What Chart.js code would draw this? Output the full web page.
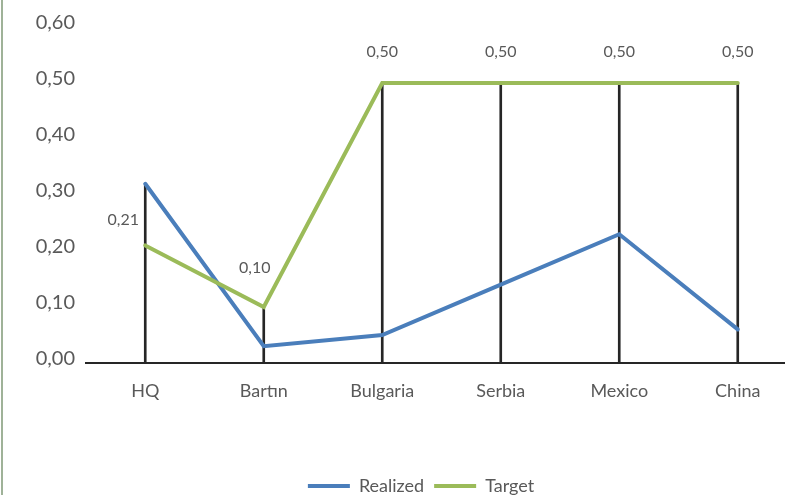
<!DOCTYPE html>
<html>
<head>
<meta charset="utf-8">
<script src="https://cdn.jsdelivr.net/npm/chart.js@4/dist/chart.umd.min.js"></script>
<style>
  html, body { margin: 0; padding: 0; background: #fff; overflow: hidden; }
  #wrap { position: relative; width: 800px; height: 505px; }
  #kenar { position: absolute; left: 1px; top: 0; width: 2px; height: 495px; background: #9fb298; }
</style>
</head>
<body>
<div id="wrap">
  <canvas id="grafik" width="800" height="505"></canvas>
  <div id="kenar"></div>
</div>
<script>
const kategoriler = ['HQ', 'Bartın', 'Bulgaria', 'Serbia', 'Mexico', 'China'];
const gerceklesen = [0.32, 0.03, 0.05, 0.14, 0.23, 0.06];
const hedef = [0.21, 0.10, 0.50, 0.50, 0.50, 0.50];
const yEksenDegerleri = [0, 0.1, 0.2, 0.3, 0.4, 0.5, 0.6];

const yaziRengi = '#595959';
const virgullu = v => Number(v).toFixed(2).replace('.', ',');

// dikey cizgiler: her kategoride iki serinin en yukseginden eksene
const dikeyler = kategoriler.map((_, i) => [0, Math.max(gerceklesen[i], hedef[i])]);

const etiketEklentisi = {
    id: 'hedefEtiketleri',
    afterLayout(chart) {
        // lejant Excel'deki gibi biraz saga kaysin
        chart.legend.left += 45;
    },
    afterDatasetsDraw(chart) {
        const meta = chart.getDatasetMeta(1);
        const ctx = chart.ctx;
        ctx.save();
        ctx.font = '16px Lato';
        ctx.fillStyle = yaziRengi;
        ctx.textAlign = 'center';
        ctx.textBaseline = 'middle';
        meta.data.forEach((nokta, i) => {
            let dx = 0, dy = -31;
            if (i === 0) { dx = -22; dy = -26; }
            if (i === 1) { dx = -9; dy = -39; }
            ctx.fillText(virgullu(hedef[i]), nokta.x + dx, nokta.y + dy);
        });
        ctx.restore();
    }
};

new Chart(document.getElementById('grafik'), {
    data: {
        labels: kategoriler,
        datasets: [
            {
                type: 'line',
                label: 'Realized',
                data: gerceklesen,
                borderColor: '#4a7ebb',
                backgroundColor: '#4a7ebb',
                borderWidth: 4,
                borderCapStyle: 'round',
                pointRadius: 0,
                tension: 0,
                order: 2
            },
            {
                type: 'line',
                label: 'Target',
                data: hedef,
                borderColor: '#9bbb59',
                backgroundColor: '#9bbb59',
                borderWidth: 4,
                borderCapStyle: 'round',
                pointRadius: 0,
                tension: 0,
                order: 1
            },
            {
                type: 'bar',
                label: 'dikey',
                data: dikeyler,
                backgroundColor: '#262626',
                barThickness: 2,
                order: 3
            }
        ]
    },
    options: {
        responsive: false,
        animation: false,
        layout: { padding: { left: 0, right: 3, top: 27, bottom: 0 } },
        plugins: {
            tooltip: { enabled: false },
            legend: {
                position: 'bottom',
                labels: {
                    usePointStyle: true,
                    pointStyle: 'line',
                    pointStyleWidth: 42,
                    color: yaziRengi,
                    font: { family: 'Lato', size: 18 },
                    padding: 10,
                    filter: item => item.text !== 'dikey',
                    sort: (a, b) => a.datasetIndex - b.datasetIndex
                }
            }
        },
        scales: {
            x: {
                grid: { display: false, drawTicks: false },
                border: { display: true, color: '#262626', width: 2 },
                ticks: {
                    color: yaziRengi,
                    font: { family: 'Lato', size: 18 },
                    padding: 17,
                    maxRotation: 0
                },
                afterFit: s => { s.height = 104; }
            },
            y: {
                min: 0,
                max: 0.6,
                afterBuildTicks: s => { s.ticks = yEksenDegerleri.map(v => ({ value: v })); },
                grid: { display: false, drawTicks: false },
                border: { display: false },
                ticks: {
                    color: yaziRengi,
                    font: { family: 'Lato', size: 20 },
                    padding: 11,
                    labelOffset: -4,
                    callback: v => virgullu(v)
                },
                afterFit: s => { s.width = 86; }
            }
        }
    },
    plugins: [etiketEklentisi]
});
</script>
</body>
</html>
